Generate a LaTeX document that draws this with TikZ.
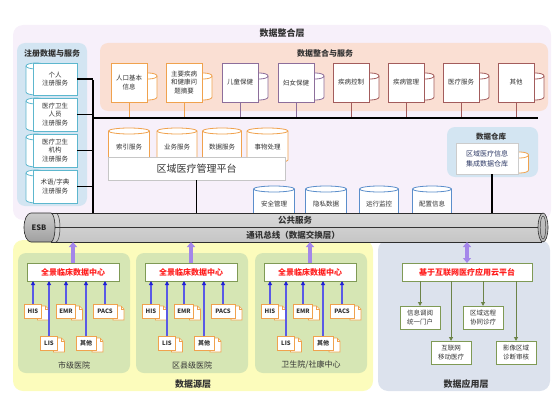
\documentclass[tikz,border=0pt]{standalone}
\usepackage{fontspec}
\setmainfont{Noto Sans CJK SC}
\usetikzlibrary{arrows.meta,shadows}
\definecolor{lavbg}{HTML}{F7F0FA}
\definecolor{regbg}{HTML}{D3E5F2}
\definecolor{cardc}{HTML}{5DB7CE}
\definecolor{salbg}{HTML}{FADFD3}
\definecolor{orgc}{HTML}{F0A24E}
\definecolor{mauvec}{HTML}{8D6E9B}
\definecolor{brnc}{HTML}{A35C5C}
\definecolor{bluec}{HTML}{5B8ECB}
\definecolor{yelbg}{HTML}{FCFCBC}
\definecolor{grnbg}{HTML}{D6E6B4}
\definecolor{olivec}{HTML}{7F9A55}
\definecolor{appbg}{HTML}{DCE2ED}
\definecolor{redt}{HTML}{FF1E1E}
\definecolor{purpc}{HTML}{A486EA}
\definecolor{blueln}{HTML}{5A5AE6}
\definecolor{bluehd}{HTML}{1F1FD6}
\definecolor{navyt}{HTML}{2E3A66}
\definecolor{txt}{HTML}{333333}

\newcommand\vcyl[6]{%
  \filldraw[draw=#5,fill=#6,line width=0.8] (#1-#4,#2) -- (#1-#4,#3)
    arc[start angle=180,end angle=0,x radius=#4,y radius=3] -- (#1+#4,#2)
    arc[start angle=0,end angle=-180,x radius=#4,y radius=3] -- cycle;
  \draw[draw=#5,line width=0.8] (#1-#4,#2) arc[start angle=180,end angle=0,x radius=#4,y radius=3];}

\newcommand\svc[4]{%
  \vcyl{#2+37.5}{76}{97}{8.5}{#3}{white}
  \node[rbox={36}{39}, draw=#3, fill=white, line width=0.8, lbl] (#1) at (#2,63) {#4};
  \draw[#3, line width=1] (#1.south) -- (#1.south |- busL);}

\newcommand\card[4]{%
  \vcyl{36}{#2+3}{#2+#3-3}{10}{cardc}{white}
  \node[rbox={44}{#3}, draw=cardc, fill=white, line width=0.8, lbl] (#1) at (33,#2) {#4};
  \draw[line width=1.4] (#1.east) -- (#1.east -| vbus);}

\newcommand\docu[5]{%
  \filldraw[draw=orgc, fill=white, line width=0.7] (#2+#4-4,#3+2) -- (#2+#4+4,#3+2) -- (#2+#4+7,#3+5) -- (#2+#4+7,#3+16) -- (#2+#4-4,#3+16) -- cycle;
  \draw[orgc, line width=0.7] (#2+#4+4,#3+2) -- (#2+#4+4,#3+5) -- (#2+#4+7,#3+5);
  \node[rbox={#4}{14}, draw=orgc, fill=white, line width=0.7, font=\bfseries\fontsize{6}{7}\selectfont, text=txt] (#1) at (#2,#3) {#5};}

\newcommand\hosp[4]{%
  \node[rbox={112}{120}, fill=grnbg, rounded corners=8] (#1g) at (18+#2,253) {};
  \node[sub] (#1l) at (74+#2,365) {#3};
  \node[rbox={92}{18}, draw=olivec, fill=white, line width=0.8, redlbl] (#1c) at (27+#2,263) {全景临床数据中心};
  \docu{#1his}{24.5+#2}{304}{17}{HIS}
  \docu{#1emr}{56.5+#2}{304}{19}{EMR}
  \docu{#1pacs}{93+#2}{304}{24}{PACS}
  \docu{#1lis}{40.5+#2}{336}{17}{LIS}
  \docu{#1oth}{76+#2}{336}{20}{其他}
  \foreach \d in {his,emr,pacs,lis,oth} {\draw[barrow] (#1\d.north) -- (#1\d.north |- #1c.south);}
  \draw[parrow] (#1c.north) -- (#1c.north |- pipe.south);}

\begin{document}
\begin{tikzpicture}[x=1pt,y=-1pt,
  rbox/.style n args={2}{anchor=north west, minimum width=#1, minimum height=#2, inner sep=0pt, outer sep=0pt},
  lbl/.style={font=\fontsize{6.5}{8.5}\selectfont, align=center, text=txt},
  ttl/.style={font=\bfseries\fontsize{9}{10}\selectfont, text=txt},
  ttl8/.style={font=\bfseries\fontsize{8}{9}\selectfont, text=txt},
  sub/.style={font=\fontsize{8}{9}\selectfont, text=txt},
  redlbl/.style={font=\bfseries\fontsize{8}{9}\selectfont, text=redt},
  barrow/.style={draw=blueln, line width=1.1, -{Triangle[length=4pt,width=4pt,fill=bluehd,color=bluehd]}},
  garrow/.style={draw=olivec!85!black, line width=1, -{Triangle[length=4pt,width=4pt]}},
  parrow/.style={draw=purpc, line width=3.2, -{Triangle[length=5pt,width=8pt]}},
  parrowd/.style={draw=purpc, line width=3.2, {Triangle[length=5pt,width=8pt]}-{Triangle[length=5pt,width=8pt]}},
  bline/.style={line width=1.5, black}
]
\useasboundingbox (0,0) rectangle (553,409);

% ---------- data integration layer ----------
\node[rbox={538}{195}, fill=lavbg, rounded corners=10] (integ) at (13,25) {};
\node[ttl] (integT) at (282,33) {数据整合层};

\coordinate (busL) at (93,118);
\coordinate (busR) at (538,118);
\coordinate (vbus) at (93,80);

% registration
\node[rbox={70}{163}, fill=regbg, rounded corners=8] (reg) at (17,43) {};
\node[ttl8] (regT) at (52,53) {注册数据与服务};
\card{c1}{63}{32}{个人\\注册服务}
\card{c2}{98}{33}{医疗卫生\\人员\\注册服务}
\card{c3}{134}{33}{医疗卫生\\机构\\注册服务}
\card{c4}{170}{33}{术语/字典\\注册服务}

% integration services
\node[rbox={448}{68}, fill=salbg, rounded corners=8] (sal) at (100,43) {};
\node[ttl8] (salT) at (325,53) {数据整合与服务};
\svc{s1}{111}{orgc}{人口基本\\信息}
\svc{s2}{166}{orgc}{主要疾病\\和健康问\\题摘要}
\svc{s3}{222}{mauvec}{儿童保健}
\svc{s4}{278}{mauvec}{妇女保健}
\svc{s5}{333}{brnc}{疾病控制}
\svc{s6}{388}{brnc}{疾病管理}
\svc{s7}{443}{brnc}{医疗服务}
\svc{s8}{498}{brnc}{其他}
\draw[bline] (busL) -- (busR);
\draw[bline] (vbus) -- (vbus |- 0,214);

% management platform
\vcyl{129}{131}{160}{20.5}{orgc}{white}
\vcyl{177}{131}{160}{20}{orgc}{white}
\vcyl{222}{131}{160}{19.5}{orgc}{white}
\vcyl{267.5}{131}{160}{20.5}{orgc}{white}
\node[lbl] (m1) at (129,147) {索引服务};
\node[lbl] (m2) at (177,147) {业务服务};
\node[lbl] (m3) at (222,147) {数据服务};
\node[lbl] (m4) at (267.5,147) {事物处理};
\node[rbox={177}{23}, draw=gray!45, fill=white, drop shadow={shadow xshift=1pt,shadow yshift=-1pt,opacity=0.25}, font=\fontsize{10}{12}\selectfont, text=txt] (plat) at (108,157) {区域医疗管理平台};
\draw[bline] (plat.south) -- (plat.south |- 0,214);

% public services cylinders
\vcyl{274}{189}{222}{20.5}{bluec}{white}
\vcyl{326}{189}{222}{20.5}{bluec}{white}
\vcyl{379}{189}{222}{19.5}{bluec}{white}
\vcyl{432}{189}{222}{19.5}{bluec}{white}
\node[lbl] (p1) at (274,204) {安全管理};
\node[lbl] (p2) at (326,204) {隐私数据};
\node[lbl] (p3) at (379,204) {运行监控};
\node[lbl] (p4) at (432,204) {配置信息};

% data warehouse
\node[rbox={91}{50}, fill=regbg, rounded corners=8] (dw) at (447,127) {};
\node[font=\bfseries\fontsize{7.5}{9}\selectfont, text=txt] (dwT) at (491,137) {数据仓库};
\vcyl{520}{155}{170}{8.5}{orgc}{white}
\node[rbox={62}{31}, draw=gray!40, fill=white, drop shadow={shadow xshift=1pt,shadow yshift=-1pt,opacity=0.25}, font=\fontsize{7}{10}\selectfont, text=navyt, align=center] (dwi) at (456,143) {区域医疗信息\\集成数据仓库};
\draw[bline] ([xshift=5pt]dwi.south) -- ([xshift=5pt]dwi.south |- 0,214);

% ---------- lower regions ----------
\node[rbox={360}{151}, fill=yelbg, rounded corners=10] (src) at (13,240) {};
\node[ttl] (srcT) at (193,384) {数据源层};
\node[rbox={172}{151}, fill=appbg, rounded corners=10] (app) at (378,240) {};
\node[ttl] (appT) at (466,384) {数据应用层};

% ---------- ESB pipe ----------
\node[rbox={490}{29}, top color=gray!30, middle color=white, bottom color=gray!45, draw=gray!35!black, line width=0.6] (pipe) at (51,213) {};
\draw[gray!40!black, line width=0.6] (pipe.west) -- (pipe.east);
\shadedraw[top color=gray!45, middle color=gray!10, bottom color=gray!60, draw=gray!35!black, line width=0.6] (543,227.5) ellipse [x radius=5, y radius=14.5];
\draw[gray!50!black, line width=0.5] (543,227.5) ellipse [x radius=2.8, y radius=11.5];
\draw[gray!40!black, line width=0.5] (56,213) arc[start angle=-90,end angle=90,x radius=4,y radius=14.5];
\shadedraw[top color=gray!40, middle color=gray!20, bottom color=gray!75, draw=gray!30!black, line width=0.6]
  (51,213) -- (31,213) arc[start angle=270,end angle=90,x radius=7,y radius=14.5] -- (51,242)
  arc[start angle=90,end angle=-90,x radius=4,y radius=14.5] -- cycle;
\node[font=\bfseries\fontsize{7.5}{9}\selectfont, text=black!85] (esb) at (39,227.5) {ESB};
\node[font=\bfseries\fontsize{8.5}{10}\selectfont, text=txt] (pub) at (295,220.5) {公共服务};
\node[font=\bfseries\fontsize{8.5}{10}\selectfont, text=txt] (comm) at (293,235) {通讯总线（数据交换层）};

% ---------- hospitals ----------
\hosp{a}{0}{市级医院}{}
\hosp{b}{118}{区县级医院}{}
\hosp{c}{237}{卫生院/社康中心}{}

% ---------- applications ----------
\node[rbox={130}{18}, draw=olivec, fill=white, line width=0.8, redlbl] (cloud) at (402,263) {基于互联网医疗应用云平台};
\node[rbox={40}{23}, draw=olivec, fill=white, line width=0.8, lbl] (a1) at (400,306) {信息调阅\\统一门户};
\node[rbox={40}{23}, draw=olivec, fill=white, line width=0.8, lbl] (a2) at (463,306) {区域远程\\协同诊疗};
\node[rbox={40}{23}, draw=olivec, fill=white, line width=0.8, lbl] (a3) at (431,341) {互联网\\移动医疗};
\node[rbox={40}{23}, draw=olivec, fill=white, line width=0.8, lbl] (a4) at (496,341) {影像区域\\诊断审核};
\foreach \a in {a1,a2,a3,a4} {\draw[garrow] (\a.north |- cloud.south) -- (\a.north);}
\draw[parrowd] (cloud.north) -- (cloud.north |- pipe.south);
\end{tikzpicture}
\end{document}
